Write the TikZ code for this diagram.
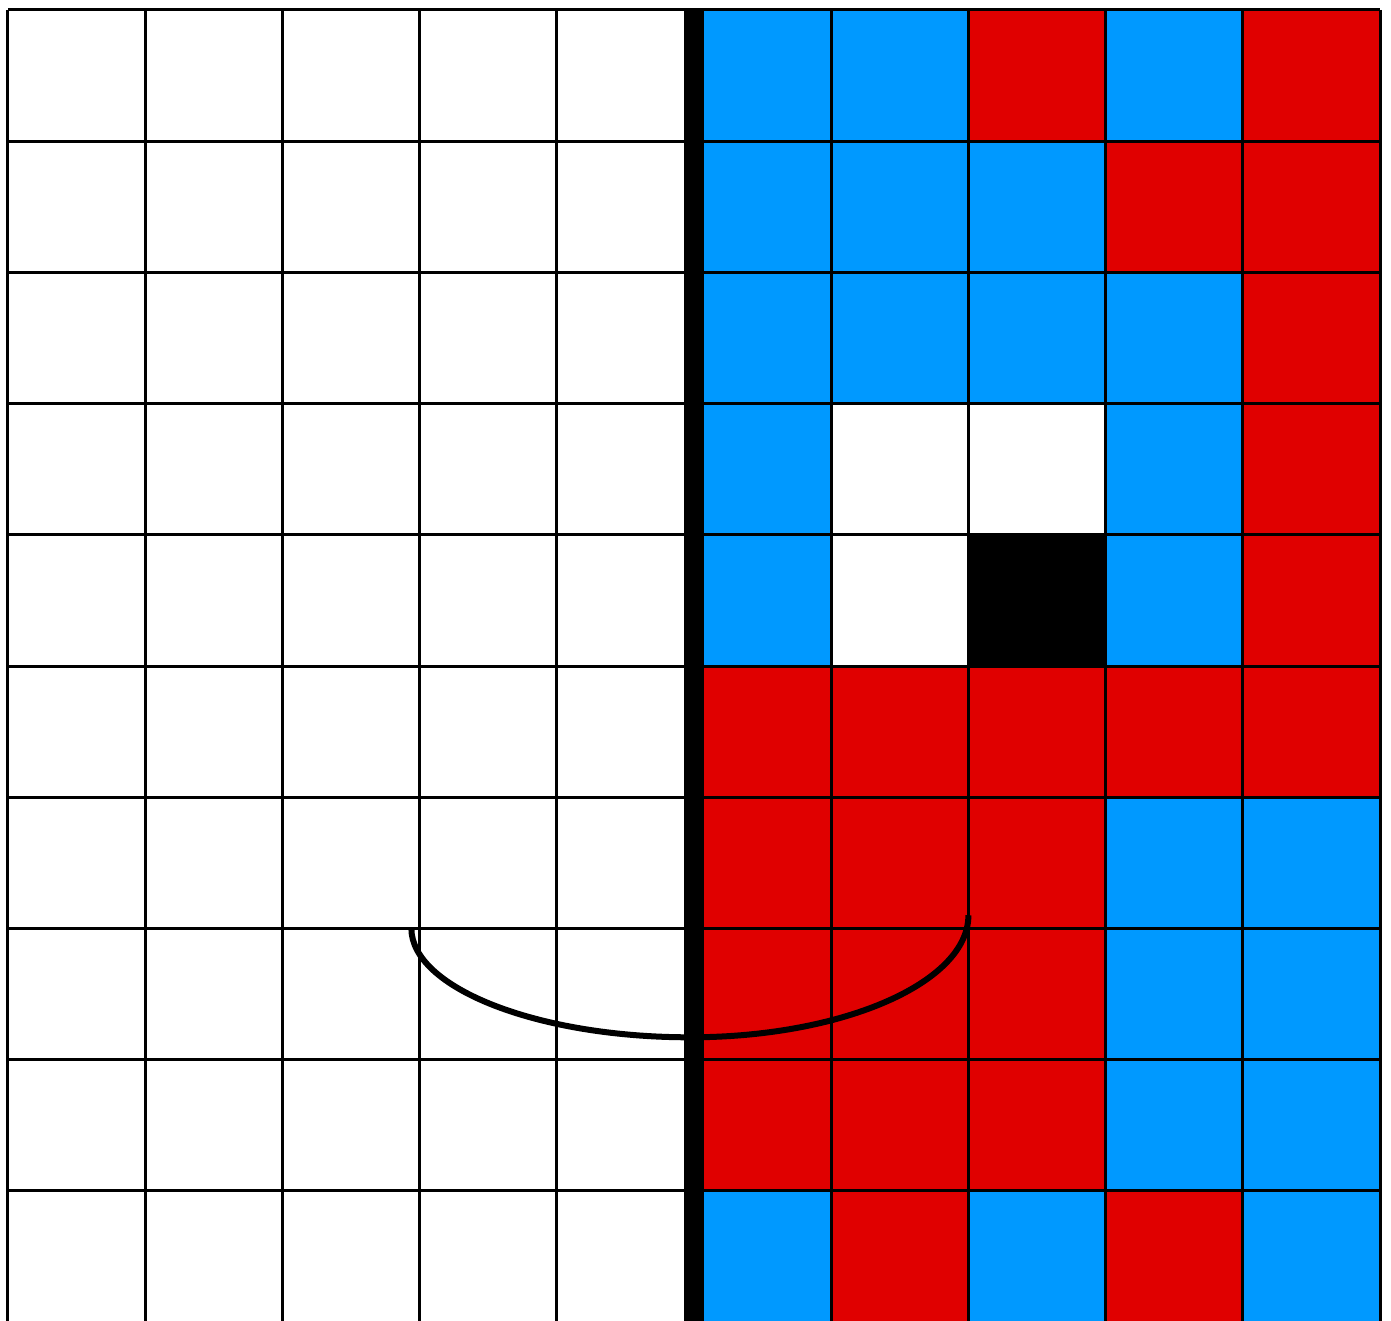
\documentclass[tikz,border=0pt]{standalone}
\usepackage{tikz}
\usepackage{xcolor}
\usetikzlibrary{calc}
\definecolor{cellblue}{RGB}{0,153,255}
\definecolor{cellred}{RGB}{224,0,0}

\begin{document}
\begin{tikzpicture}[x=2.744cm,y=2.624cm,
    gridline/.style={black,line width=0.06cm},
    midline/.style={black,line width=0.4cm},
    arcline/.style={black,line width=0.12cm}]
  \useasboundingbox (-0.0583,0.0762) rectangle (10.080,-9.985);

  % rechte Haelfte: farbige Zellen, eine Zeile pro Eintrag
  \foreach \row [count=\r from 0] in {
      {cellblue,cellblue,cellred,cellblue,cellred},
      {cellblue,cellblue,cellblue,cellred,cellred},
      {cellblue,cellblue,cellblue,cellblue,cellred},
      {cellblue,white,white,cellblue,cellred},
      {cellblue,white,black,cellblue,cellred},
      {cellred,cellred,cellred,cellred,cellred},
      {cellred,cellred,cellred,cellblue,cellblue},
      {cellred,cellred,cellred,cellblue,cellblue},
      {cellred,cellred,cellred,cellblue,cellblue},
      {cellblue,cellred,cellblue,cellred,cellblue}}{
    \foreach \c [count=\k from 5] in \row
      \fill[\c] (\k,-\r) rectangle ++(1,-1);
  }

  % Gitter und Mittellinie
  \foreach \i in {0,...,10} {
    \draw[gridline] (\i,0) -- (\i,-10);
    \draw[gridline] (0,-\i) -- (10,-\i);
  }
  \draw[midline] (5,0.01) -- (5,-10);

  % Bogen unten
  \coordinate (arcL) at (2.94,-7.0);
  \coordinate (arcB) at (4.97,-7.83);
  \coordinate (arcR) at (7.0,-6.90);
  \draw[arcline] (arcL) .. controls ($(arcL)+(0,-0.45)$) and ($(arcB)+(-1.12,0)$) .. (arcB)
                        .. controls ($(arcB)+(1.12,0)$) and ($(arcR)+(0,-0.51)$) .. (arcR);
\end{tikzpicture}
\end{document}
